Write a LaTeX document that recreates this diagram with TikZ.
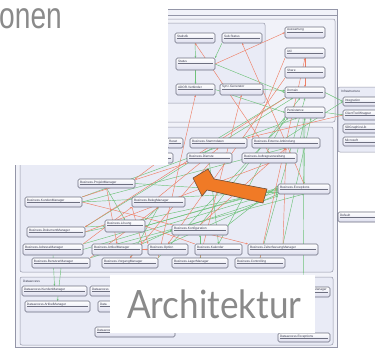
\documentclass[tikz,border=0pt]{standalone}
\usepackage{fontspec}
\setmainfont{Liberation Sans}
\newfontfamily\archfont{Lato}
\usetikzlibrary{arrows.meta}
\pgfdeclarelayer{back}\pgfdeclarelayer{mid}\pgfdeclarelayer{front}
\pgfsetlayers{back,mid,main,front}
\definecolor{frameF}{HTML}{F1F2F9}
\definecolor{panelF}{HTML}{E9EBF6}
\definecolor{panelD}{HTML}{9496A8}
\definecolor{boxD}{HTML}{6D6F80}
\definecolor{boxB}{HTML}{DCDDEE}
\definecolor{rdC}{HTML}{EE7F66}
\definecolor{grC}{HTML}{6FC27A}
\definecolor{arrowC}{HTML}{F07A26}
\definecolor{arrowD}{HTML}{6B4E3A}
\definecolor{titleC}{HTML}{8A8A8A}
\definecolor{lblC}{HTML}{3A3C50}
\tikzset{
  panel/.style={draw=panelD, line width=0.5pt, rounded corners=2pt, fill=panelF},
  ubox/.style={draw=boxD, line width=0.6pt, rounded corners=1.5pt, top color=white, bottom color=boxB, inner sep=0pt, outer sep=0pt},
  lbl/.style={inner sep=0pt, text=lblC, font=\fontsize{3.2}{3.6}\selectfont},
  uline/.style={draw=boxD, line width=0.3pt},
  gr/.style={draw=grC, line width=0.45pt, -{Stealth[length=2.2pt,width=1.8pt]}},
  rd/.style={draw=rdC, line width=0.45pt, -{Stealth[length=2.2pt,width=1.8pt]}},
}
\newcommand\mybox[6]{%
  \node[ubox, minimum width={#4-#2}, minimum height={#5-#3}, anchor=north west] (#1) at (#2,#3) {};
  \node[lbl, anchor=west] at ([shift={(1.8,3.2)}]#1.north west) {#6};
  \draw[uline] ([shift={(1.8,5.6)}]#1.north west) -- ([shift={(-2,5.6)}]#1.north east);
}
\begin{document}
\begin{tikzpicture}[x=1pt,y=-1pt]
\useasboundingbox (0,0) rectangle (375,348);
% ---------- frames and panels
\begin{pgfonlayer}{back}
  \fill[white] (0,0) rectangle (375,348);
  \draw[draw=panelD, line width=0.7pt, fill=frameF] (15,9) rectangle (337,347);
  \draw[draw=panelD, line width=0.5pt] (15,15) -- (337,15);
  \draw[panel, fill=frameF] (18,19) rectangle (335,122);
  \draw[panel] (20,23) rectangle (265,103);
  \draw[panel] (20,127) rectangle (333,272);
  \draw[panel] (20,277) rectangle (333,345);
  \node[lbl, anchor=west] (dalbl) at (23,281) {Dataaccess};
  \draw[panel] (338,87) rectangle (380,152);
  \node[lbl, anchor=west] (inlbl) at (341,91) {Infrastructure};
\end{pgfonlayer}
% ---------- boxes: upper part
\mybox{u1}{175}{33}{215}{43}{Statistik}
\mybox{u2}{222}{33}{262}{43}{Sub.Status}
\mybox{u3}{176}{58}{215}{70}{Status}
\mybox{u4}{176}{84}{215}{95}{ADOR.Verbinder}
\mybox{u5}{220}{84}{263}{95}{Sync.Generator}
\mybox{r1}{285}{27}{325}{38}{Auswertung}
\mybox{r2}{285}{48}{325}{58}{Util}
\mybox{r3}{285}{67}{325}{78}{Share}
\mybox{r4}{285}{87}{325}{98}{Domain}
\mybox{r5}{285}{107}{325}{118}{Persistence}
\mybox{i1}{343}{97}{380}{106}{Integration}
\mybox{i2}{343}{110}{380}{120}{ClientToolWrapper}
\mybox{i3}{343}{124}{380}{133}{SDGraphicsLib}
\mybox{i4}{343}{137}{380}{146}{Microsoft}
\mybox{df}{338}{212}{380}{222}{Default}
% ---------- business
\mybox{b1}{167}{138}{183}{148}{Reset}
\mybox{b2}{190}{138}{247}{148}{Business.Stammdaten}
\mybox{b3}{252}{138}{320}{148}{Business.Externe.Anbindung}
\mybox{b4}{140}{153}{173}{163}{}
\mybox{b5}{187}{153}{232}{163}{Business.Dienste}
\mybox{b6}{242}{153}{297}{163}{Business.Auftragsverwaltung}
\mybox{b7}{78}{179}{135}{188}{Business.ProjektManager}
\mybox{b8}{25}{197}{82}{207}{Business.KundenManager}
\mybox{b9}{132}{197}{185}{207}{Business.BelegManager}
\mybox{b10}{278}{184}{330}{194}{Business.Exceptions}
\mybox{b11}{105}{220}{145}{232}{Business.L\"osung}
\mybox{b12}{27}{227}{85}{237}{Business.DokumentManager}
\mybox{b13}{172}{225}{228}{235}{Business.Konfiguration}
\mybox{b14}{23}{244}{83}{255}{Business.AdresseManager}
\mybox{b15}{92}{244}{142}{255}{Business.ArtikelManager}
\mybox{b16}{148}{244}{188}{255}{Business.Option}
\mybox{b17}{195}{244}{242}{255}{Business.Kalender}
\mybox{b18}{248}{244}{318}{255}{Business.ZeiterfassungManager}
\mybox{b19}{32}{258}{90}{268}{Business.BenutzerManager}
\mybox{b20}{102}{258}{158}{268}{Business.VorgangManager}
\mybox{b21}{172}{258}{228}{268}{Business.LagerManager}
\mybox{b22}{235}{258}{285}{268}{Business.Controlling}
% ---------- dataaccess
\mybox{da1}{22}{286}{87}{296}{Dataaccess.KundenManager}
\mybox{da2}{90}{286}{150}{296}{Dataaccess}
\node[ubox, minimum width=32pt, minimum height=10pt, anchor=north west] (da3) at (298,287) {};
\node[lbl, anchor=east] (da3l) at ([shift={(-3,3.2)}]da3.north east) {Manager};
\draw[uline] ([shift={(1.8,5.6)}]da3.north west) -- ([shift={(-2,5.6)}]da3.north east);
\mybox{da4}{25}{301}{90}{312}{Dataaccess.ArtikelManager}
\mybox{da5}{98}{301}{150}{312}{Data}
\mybox{da6}{95}{327}{175}{337}{Dataaccess.Basis}
\mybox{da7}{278}{333}{330}{342}{Dataaccess.Exceptions}
% ---------- connectors
\begin{pgfonlayer}{mid}
  % green
  \draw[gr] (b8.east) -- ([yshift=-3]b10.west);
  \draw[gr] (b12.east) -- ([yshift=-1]b10.west);
  \draw[gr] (b14.north east) -- ([yshift=1]b10.west);
  \draw[gr] (b13.north east) -- ([yshift=3]b10.west);
  \draw[gr] (b7.east) -- ([yshift=-4]b10.west);
  \draw[gr] (b11.east) -- (b10.west);
  \draw[gr] (b16.north) -- (b10.south west);
  \draw[gr] (r5.south) -- (b10.north);
  \draw[gr] ([xshift=-2]r5.south) -- (da7.north);
  \draw[gr] (b14.south) -- (da1.north);
  \draw[gr] (b19.south) -- (da4.north);
  \draw[gr] (u1.south) -- (u3.north);
  \draw[gr] (u2.south west) -- (u3.north east);
  \draw[gr] (u3.south) -- (u4.north);
  \draw[gr] (u3.east) -- (r4.west);
  \draw[gr] (u4.east) -- (r5.west);
  \draw[gr] (u5.east) -- ([yshift=2]r4.west);
  \draw[gr] (b2.north) -- (r4.south west);
  \draw[gr] (b3.north) -- (i1.west);
  \draw[gr] (b6.north east) -- (r5.south);
  \draw[gr] (b17.north) -- (r5.south west);
  \draw[gr] (b18.north) -- ([xshift=6]r5.south);
  \draw[gr] (b22.north) -- (r4.south);
  \draw[gr] (b20.north east) -- ([xshift=3]r5.south west);
  \draw[gr] (b12.north east) -- (b11.west);
  \draw[gr] (b9.south) -- (b11.north east);
  \draw[gr] (b7.south) -- (b11.north);
  \draw[gr] (b21.north) -- (b13.south);
  \draw[gr] (b5.south) -- (b17.north);
  \draw[gr] (b15.north east) -- (b13.west);
  \draw[gr] (b13.north) -- ([xshift=-5]r4.south);
  \draw[gr] (b8.east) -- (b3.south);
  \draw[gr] (b14.east) -- ([yshift=2]b10.south west);
  \draw[gr] (r4.east) -- (i1.west);
  \draw[gr] (r5.east) -- (i2.west);
  \draw[gr] (b20.north) -- (b9.south);
  \draw[gr] (b8.north east) -- ([xshift=-8]r5.south);
  \draw[gr] (b12.north east) -- ([xshift=8]r4.south west);
  \draw[gr] (b19.north east) -- ([yshift=-2]b10.south west);
  \draw[gr] (b15.north) -- (b10.south);
  % red
  \draw[rd] (b7.south) -- (b15.north);
  \draw[rd] (b9.south west) -- (b15.north east);
  \draw[rd] (b11.south east) -- (b16.north west);
  \draw[rd] (b15.east) -- (b16.west);
  \draw[rd] (b9.north) -- (b2.south);
  \draw[rd] (b8.north east) -- (b5.south west);
  \draw[rd] (b12.east) -- (b6.south);
  \draw[rd] (b4.south) -- (b7.north east);
  \draw[rd] (b6.north) -- (u1.south);
  \draw[rd] (u3.east) -- (r1.west);
  \draw[rd] (r2.south) -- (r4.north);
  \draw[rd] (r2.south west) -- (b3.north west);
  \draw[rd] (i2.west) -- (b2.north east);
  \draw[rd] (r3.south west) -- (b16.north);
  \draw[rd] (b20.north east) -- (u4.south);
  \draw[rd] (b13.north) -- (b3.south);
  \draw[rd] (b22.north) -- (r2.south);
  \draw[rd] (b21.north) -- (u5.south);
  \draw[rd] (b17.north west) -- (b11.east);
  \draw[rd] (b14.north east) -- (b9.south west);
  \draw[rd] (b18.north) -- (b3.south);
  \draw[rd] (b10.north) -- (u2.south);
  \draw[rd] (b19.north east) -- (b9.south);
  \draw[rd] (b5.south) -- (b20.north);
  \draw[rd] (r4.south west) -- (b12.north east);
  \draw[rd] (b8.east) -- (b18.north west);
\end{pgfonlayer}
% ---------- overlays
\begin{pgfonlayer}{front}
  \fill[white] (0,0) rectangle (168,165);
  \node[anchor=base east, inner sep=0pt, text=titleC, font=\fontsize{37}{37}\selectfont] (ttl) at (62,28) {\scalebox{0.76}[1]{onen}};
  \filldraw[fill=arrowC, draw=arrowD, line width=0.6pt, line join=round]
    (193,178) -- (208,169) -- (214,179) -- (267,189) -- (263,203) -- (207,190) -- (202,196) -- cycle;
  \fill[white] (110,275) rectangle (315,333);
  \node[anchor=base west, inner sep=0pt, text=titleC, font=\archfont\fontsize{39}{39}\selectfont] (arch) at (127,318) {\scalebox{0.9}[1]{Architektur}};
\end{pgfonlayer}
\end{tikzpicture}
\end{document}
